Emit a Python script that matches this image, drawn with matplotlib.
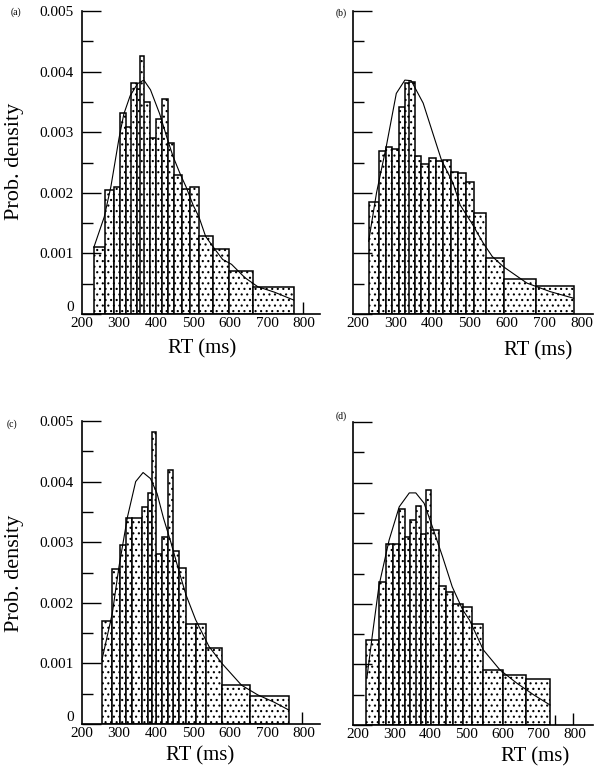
import matplotlib.pyplot as plt
import numpy as np

plt.rcParams['font.family'] = ['Liberation Serif', 'DejaVu Serif']
plt.rcParams['hatch.linewidth'] = 0.8

# ---- panel (a) ----
a_left = [232, 262, 287, 304, 319, 332, 348, 363, 358, 385, 401, 416, 432, 448, 470, 491, 516, 553, 597, 663]
a_right = [262, 287, 304, 319, 334, 348, 361, 385, 368, 401, 416, 432, 448, 470, 491, 516, 553, 597, 663, 772]
a_height = [0.00110, 0.00205, 0.00210, 0.00332, 0.00309, 0.00382, 0.00372, 0.00350, 0.00426, 0.00290,
            0.00322, 0.00354, 0.00282, 0.00230, 0.00206, 0.00210, 0.00129, 0.00108, 0.00071, 0.00044]
a_curve_x = [232, 260, 278, 300, 313, 330, 350, 367, 385, 410, 430, 446, 466, 481, 500, 516, 534, 560,
             580, 604, 640, 675, 720, 772]
a_curve_y = [0.0011, 0.0016, 0.0021, 0.0029, 0.0033, 0.0036, 0.0038, 0.00386, 0.0037, 0.0033, 0.0029,
             0.0026, 0.0023, 0.0021, 0.0018, 0.0016, 0.00128, 0.00106, 0.0009, 0.00082, 0.0006, 0.00045,
             0.00036, 0.00023]
a_tails = [797]
a_tail_h = [0.0002]

# ---- panel (b) ----
b_left = [229, 257, 275, 292, 310, 325, 337, 352, 370, 391, 409, 428, 449, 468, 491, 511, 542, 592, 677]
b_right = [257, 275, 292, 310, 325, 341, 352, 370, 391, 409, 428, 449, 468, 491, 511, 542, 592, 677, 780]
b_height = [0.00185, 0.00269, 0.00275, 0.00272, 0.00342, 0.00381, 0.00383, 0.00260, 0.00248, 0.00258,
            0.00253, 0.00254, 0.00235, 0.00232, 0.00218, 0.00166, 0.00092, 0.00058, 0.00047]
b_curve_x = [229, 250, 276, 303, 326, 343, 375, 401, 424, 455, 474, 505, 536, 560, 590, 653, 715, 778]
b_curve_y = [0.0012, 0.0020, 0.00276, 0.00364, 0.00386, 0.00385, 0.00348, 0.00298, 0.00254, 0.00216,
             0.0018, 0.0015, 0.00117, 0.00095, 0.00078, 0.00051, 0.00037, 0.00026]
b_tails = []
b_tail_h = []

# ---- panel (c) ----
c_left = [254, 282, 302, 318, 336, 361, 377, 400, 417, 445, 463, 481, 508, 536, 578, 653, 390, 432]
c_right = [282, 302, 320, 336, 361, 377, 390, 417, 433, 463, 481, 508, 536, 578, 653, 759, 400, 445]
c_height = [0.0017, 0.00255, 0.00295, 0.0034, 0.0034, 0.00358, 0.00382, 0.0028, 0.00308, 0.00285,
            0.00258, 0.00165, 0.00165, 0.00125, 0.00065, 0.00047, 0.00482, 0.00419]
c_curve_x = [254, 282, 300, 323, 345, 365, 385, 403, 420, 440, 463, 481, 507, 543, 578, 631, 675, 719, 759]
c_curve_y = [0.00106, 0.00183, 0.0026, 0.00342, 0.0040, 0.00415, 0.00405, 0.0038, 0.0034, 0.0030,
             0.0025, 0.00213, 0.00172, 0.00128, 0.0010, 0.00064, 0.00048, 0.00036, 0.00023]
c_tails = [794]
c_tail_h = [0.00019]

# ---- panel (d) ----
d_left = [223, 258, 278, 297, 314, 329, 343, 360, 375, 389, 403, 424, 443, 463, 491, 516, 546, 603, 666]
d_right = [258, 278, 297, 314, 329, 343, 362, 375, 389, 403, 424, 443, 463, 491, 516, 546, 603, 666, 733]
d_height = [0.0014, 0.00236, 0.00299, 0.00299, 0.00356, 0.0031, 0.00339, 0.00361, 0.00316, 0.00388,
            0.00322, 0.00229, 0.00219, 0.0020, 0.00194, 0.00166, 0.00091, 0.00082, 0.00076]
d_curve_x = [225, 240, 258, 286, 314, 342, 360, 383, 406, 434, 461, 490, 509, 547, 593, 640, 686, 732]
d_curve_y = [0.0008, 0.0015, 0.0023, 0.00305, 0.0036, 0.00383, 0.00383, 0.00366, 0.00327, 0.00278,
             0.00228, 0.0019, 0.00173, 0.00124, 0.00091, 0.00069, 0.0005, 0.00033]
d_tails = [745, 796]
d_tail_h = [0.00016, 0.00019]

x_ticks = [200, 300, 400, 500, 600, 700, 800]
y_ticks = [0, 0.001, 0.002, 0.003, 0.004, 0.005]
y_tick_labels = ['0', '0.001', '0.002', '0.003', '0.004', '0.005']

W, H = 603, 776
fig = plt.figure(figsize=(W / 100, H / 100), dpi=100)


def px_axes(l, r, top, bot):
    return fig.add_axes([l / W, 1 - bot / H, (r - l) / W, (bot - top) / H])


def draw(ax, left, right, height, cx, cy, tails, tail_h, xlim, show_y):
    widths = [r - l for l, r in zip(left, right)]
    ax.bar(left, height, width=widths, align='edge', color='white', edgecolor='black',
           hatch='...', linewidth=1.1)
    ax.plot(cx, cy, color='black', lw=0.8)
    if tails:
        ax.vlines(tails, 0, tail_h, color='black', lw=1)
    ax.set_xlim(*xlim)
    ax.set_ylim(0, 0.005)
    ax.spines['top'].set_visible(False)
    ax.spines['right'].set_visible(False)
    ax.spines['left'].set_linewidth(1.2)
    ax.spines['bottom'].set_linewidth(1.2)
    ax.set_xticks(x_ticks)
    ax.set_xticklabels([str(t) for t in x_ticks], fontsize=11)
    ax.tick_params(axis='x', length=0, pad=2)
    ax.set_yticks(y_ticks)
    ax.set_yticks(np.arange(0.0005, 0.005, 0.001), minor=True)
    ax.tick_params(axis='y', which='major', direction='in', length=14, width=1, pad=6)
    ax.tick_params(axis='y', which='minor', direction='in', length=8, width=1)
    if show_y:
        ax.set_yticklabels(y_tick_labels, fontsize=11)
        ax.get_yticklabels()[0].set_verticalalignment('bottom')
    else:
        ax.set_yticklabels([])


ax_a = px_axes(82, 320, 11, 314)
draw(ax_a, a_left, a_right, a_height, a_curve_x, a_curve_y, a_tails, a_tail_h, (213, 843), True)
ax_b = px_axes(353, 593, 11, 314)
draw(ax_b, b_left, b_right, b_height, b_curve_x, b_curve_y, b_tails, b_tail_h, (187, 830), False)
ax_c = px_axes(82, 320, 421, 724)
draw(ax_c, c_left, c_right, c_height, c_curve_x, c_curve_y, c_tails, c_tail_h, (213, 843), True)
ax_d = px_axes(353, 593, 422, 725)
draw(ax_d, d_left, d_right, d_height, d_curve_x, d_curve_y, d_tails, d_tail_h, (186, 851), False)


def ftext(x, y, s, **kw):
    fig.text(x / W, 1 - y / H, s, ha='center', va='center', **kw)


ftext(16, 12, '(a)', fontsize=7)
ftext(341, 13, '(b)', fontsize=7)
ftext(12, 424, '(c)', fontsize=7)
ftext(341, 416, '(d)', fontsize=7)

ftext(15, 161, 'Prob. density', fontsize=16, rotation=90)
ftext(15, 573, 'Prob. density', fontsize=16, rotation=90)
ftext(202, 349, 'RT (ms)', fontsize=15)
ftext(538, 351, 'RT (ms)', fontsize=15)
ftext(200, 756, 'RT (ms)', fontsize=15)
ftext(535, 757, 'RT (ms)', fontsize=15)

fig.savefig('out.png', dpi=100)
